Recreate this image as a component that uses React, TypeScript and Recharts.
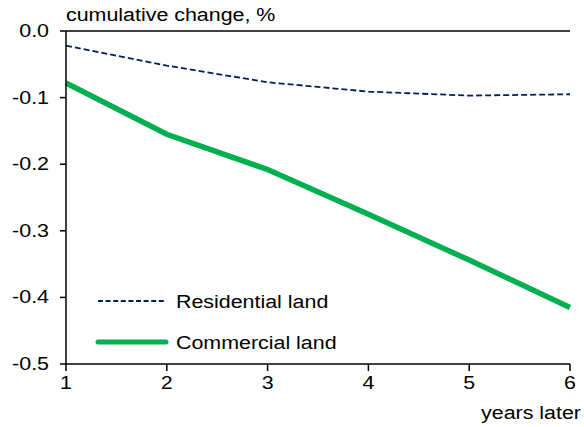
import React from "react";
import { LineChart, Line, XAxis, YAxis, ReferenceLine, Customized } from "recharts";

const years = [1, 2, 3, 4, 5, 6];
const residential = [-0.022, -0.052, -0.077, -0.091, -0.097, -0.095];
const commercial = [-0.078, -0.155, -0.208, -0.275, -0.344, -0.415];
const yTicks = [-0.5, -0.4, -0.3, -0.2, -0.1, 0];
const xTicks = [1, 2, 3, 4, 5, 6];

const data = years.map((y, i) => ({ year: y, residential: residential[i], commercial: commercial[i] }));

const FONT = "'Liberation Sans', Arial, sans-serif";
const FS = 18;
const SX = 1.19;
const NAVY = "#002060";
const GREEN = "#00B050";

const Txt = ({ x, y, anchor, children }: any) => (
  <text
    transform={`translate(${x},${y}) scale(${SX},1)`}
    x={0}
    y={0}
    textAnchor={anchor}
    fontFamily={FONT}
    fontSize={FS}
    fill="#000"
  >
    {children}
  </text>
);

const YTick = (props: any) => {
  const { x, y, payload } = props;
  return <Txt x={x} y={y + 6} anchor="end">{Number(payload.value).toFixed(1)}</Txt>;
};

const XTick = (props: any) => {
  const { x, y, payload } = props;
  return <Txt x={x} y={y + 16} anchor="middle">{payload.value}</Txt>;
};

const Extras = () => (
  <g>
    <Txt x={66} y={21} anchor="start">cumulative change, %</Txt>
    <Txt x={581} y={419} anchor="end">years later</Txt>
    <line x1={98} y1={301} x2={166} y2={301} stroke={NAVY} strokeWidth={1.8} strokeDasharray="5 2.6" />
    <Txt x={176} y={308} anchor="start">Residential land</Txt>
    <line x1={98} y1={342} x2={166} y2={342} stroke={GREEN} strokeWidth={5} strokeLinecap="round" />
    <Txt x={176} y={349} anchor="start">Commercial land</Txt>
  </g>
);

export default function App() {
  return (
    <div style={{ position: "absolute", left: 0, top: 0, width: 584, height: 427, background: "#fff" }}>
      <LineChart width={584} height={427} data={data} margin={{ top: 31, right: 14, bottom: 0, left: 0 }}>
        <XAxis
          dataKey="year"
          type="number"
          domain={[1, 6]}
          ticks={xTicks}
          tickSize={7}
          tick={<XTick />}
          axisLine={{ stroke: "#000", strokeWidth: 1.5 }}
          tickLine={{ stroke: "#000", strokeWidth: 1.5 }}
          height={63}
        />
        <YAxis
          type="number"
          domain={[-0.5, 0]}
          ticks={yTicks}
          tickSize={6}
          width={66}
          tick={<YTick />}
          tickMargin={11}
          axisLine={{ stroke: "#000", strokeWidth: 1.5 }}
          tickLine={{ stroke: "#000", strokeWidth: 1.5 }}
          interval={0}
        />
        <ReferenceLine y={0} stroke="#000" strokeWidth={1.5} />
        <Line
          dataKey="residential"
          stroke={NAVY}
          strokeWidth={1.8}
          strokeDasharray="6 3"
          dot={false}
          isAnimationActive={false}
        />
        <Line
          dataKey="commercial"
          stroke={GREEN}
          strokeWidth={5.5}
          dot={false}
          isAnimationActive={false}
        />
        <Customized component={Extras} />
      </LineChart>
    </div>
  );
}
